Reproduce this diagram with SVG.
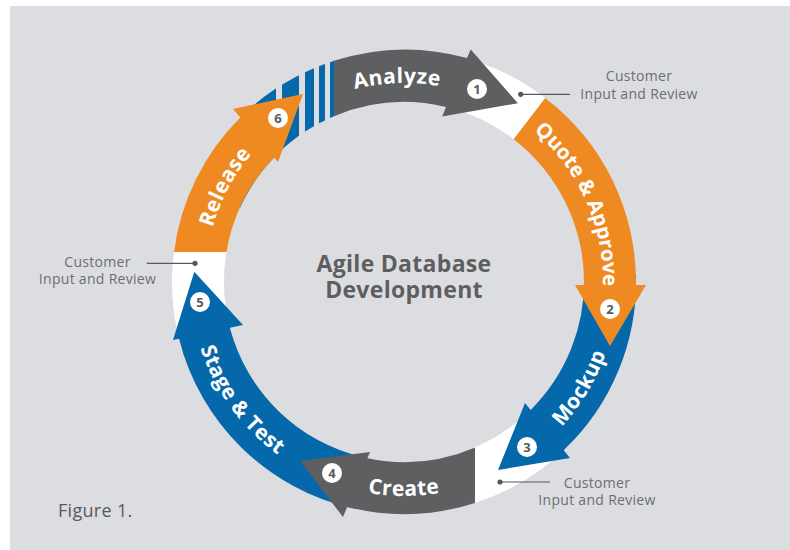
<svg xmlns="http://www.w3.org/2000/svg" width="790" height="550" viewBox="0 0 790 550">
<style>
.lbl{font-family:"Open Sans","Liberation Sans",sans-serif;font-weight:700;font-size:21px;fill:#ffffff;letter-spacing:0.5px}
.num{font-family:"Open Sans","Liberation Sans",sans-serif;font-weight:700;font-size:13px;fill:#58595b;text-anchor:middle}
.cust{font-family:"Open Sans","Liberation Sans",sans-serif;font-size:14px;fill:#6d6e71;text-anchor:middle;letter-spacing:0.3px}
.title{font-family:"Open Sans","Liberation Sans",sans-serif;font-weight:700;font-size:23px;fill:#5d5e60;text-anchor:middle;letter-spacing:0.3px}
.white{fill:none;stroke:#ffffff;stroke-width:52}
.lead{stroke:#58595b;stroke-width:1.2;fill:none}
.dot{fill:#58595b}
.circ{fill:#ffffff}
.gray{fill:#5e5f61}
.orange{fill:#ef8a22}
.blue{fill:#0568aa}
</style>
<defs>
<clipPath id="ring"><path clip-rule="evenodd" d="M172,282a232,232 0 1,0 464,0a232,232 0 1,0 -464,0ZM224,282a180,180 0 1,0 360,0a180,180 0 1,0 -360,0Z"/></clipPath>
<path id="pAnalyze" d="M276.1,129.6A199,199 0 0 1 521.0,121.0"/>
<path id="pQuote" d="M472.1,95.0A199,199 0 0 1 591.0,350.1"/>
<path id="pRelease" d="M213.7,340.2A199,199 0 0 1 345.8,91.7"/>
<path id="pMockup" d="M473.7,484.3A214,214 0 0 0 615.4,248.5"/>
<path id="pCreate" d="M266.4,445.9A214,214 0 0 0 541.6,445.9"/>
<path id="pStage" d="M190.5,267.1A214,214 0 0 0 352.2,489.6"/>
</defs>
<rect x="0" y="0" width="790" height="550" fill="#ffffff"/>
<rect x="10" y="6" width="780" height="544" fill="#dcdde0"/>

<g id="review-zones">
<path class="white" d="M446.8,80.5A206,206 0 0 1 536.4,124.2"/>
<path class="white" d="M552.2,425.1A206,206 0 0 1 457.3,481.0"/>
<path class="white" d="M207.0,342.2A206,206 0 0 1 201.1,246.2"/>
</g>

<g id="stripes" clip-path="url(#ring)" class="blue">
<rect x="240" y="40" width="36" height="180"/>
<rect x="282" y="40" width="17" height="180"/>
<rect x="305" y="40" width="9" height="180"/>
<rect x="319" y="40" width="6" height="180"/>
<rect x="330" y="40" width="5" height="180"/>
</g>

<g id="stage">
<path class="blue" d="M351.8,508.1A232,232 0 0 1 179.0,338.7L173,340L194.3,271.7L243,325L229.9,327.8A180,180 0 0 0 363.5,457.4Z"/>
<text class="lbl"><textPath href="#pStage" startOffset="50%" text-anchor="middle">Stage &amp; Test</textPath></text>
<circle class="circ" cx="200" cy="302" r="10"/>
<text class="num" x="200" y="306.5">5</text>
</g>

<g id="create">
<path class="gray" d="M475,502.9A232,232 0 0 1 347.2,506.9L343,517L300,461L370,452L367.4,458.2A180,180 0 0 0 475,447.4Z"/>
<text class="lbl"><textPath href="#pCreate" startOffset="50%" text-anchor="middle">Create</textPath></text>
<circle class="circ" cx="332" cy="473" r="10"/>
<text class="num" x="332" y="477.5">4</text>
</g>

<g id="mockup">
<path class="blue" d="M635.9,273.9A232,232 0 0 1 563.7,450.3L570,458L498,470L525,403L530.65,409.9A180,180 0 0 0 583.9,275.7Z"/>
<text class="lbl"><textPath href="#pMockup" startOffset="50%" text-anchor="middle">Mockup</textPath></text>
<circle class="circ" cx="527" cy="447" r="10"/>
<text class="num" x="527" y="451.5">3</text>
</g>

<g id="quote">
<path class="orange" d="M545.2,97.9A232,232 0 0 1 636,285L646,285L610,346L575,285L584,285A180,180 0 0 0 513.6,139.2Z"/>
<text class="lbl" style="letter-spacing:0;font-size:20.5px"><textPath href="#pQuote" startOffset="51%" text-anchor="middle">Quote &amp; Approve</textPath></text>
<circle class="circ" cx="610" cy="309" r="10"/>
<text class="num" x="610" y="313.5">2</text>
</g>

<g id="analyze">
<path class="gray" d="M334,60.8A232,232 0 0 1 467,58L470.7,49.4L517.9,103.2L442.2,116.4L446,107A180,180 0 0 0 334,116.2Z"/>
<text class="lbl"><textPath href="#pAnalyze" startOffset="50%" text-anchor="middle">Analyze</textPath></text>
<circle class="circ" cx="477" cy="89" r="10"/>
<text class="num" x="477" y="93.5">1</text>
</g>

<g id="release">
<path class="orange" d="M173.95,252A232,232 0 0 1 240.3,117.6L233,109L303,94L278,162L274.1,157.4A180,180 0 0 0 226.5,252Z"/>
<text class="lbl"><textPath href="#pRelease" startOffset="50%" text-anchor="middle">Release</textPath></text>
<circle class="circ" cx="278" cy="118" r="10"/>
<text class="num" x="278" y="122.5">6</text>
</g>

<g id="connectors">
<circle class="dot" cx="520.7" cy="94.3" r="2.6"/>
<line class="lead" x1="520.7" y1="94.3" x2="570" y2="94.3"/>
<circle class="dot" cx="500" cy="482" r="2.6"/>
<line class="lead" x1="500" y1="482" x2="550" y2="482"/>
<circle class="dot" cx="195" cy="263.3" r="2.6"/>
<line class="lead" x1="195" y1="263.3" x2="146.7" y2="263.3"/>
</g>

<g id="review-labels">
<text class="cust" x="639" y="81">Customer</text>
<text class="cust" x="639" y="98.5">Input and Review</text>
<text class="cust" x="597" y="487.5">Customer</text>
<text class="cust" x="597" y="505">Input and Review</text>
<text class="cust" x="97.5" y="266.5">Customer</text>
<text class="cust" x="97.5" y="284">Input and Review</text>
</g>

<g id="center-title">
<text class="title" x="404" y="271.5">Agile Database</text>
<text class="title" x="404" y="297.5">Development</text>
</g>

<text x="58" y="517" font-family="Open Sans, Liberation Sans, sans-serif" font-size="18" fill="#58595b" letter-spacing="0.3">Figure 1.</text>
</svg>
